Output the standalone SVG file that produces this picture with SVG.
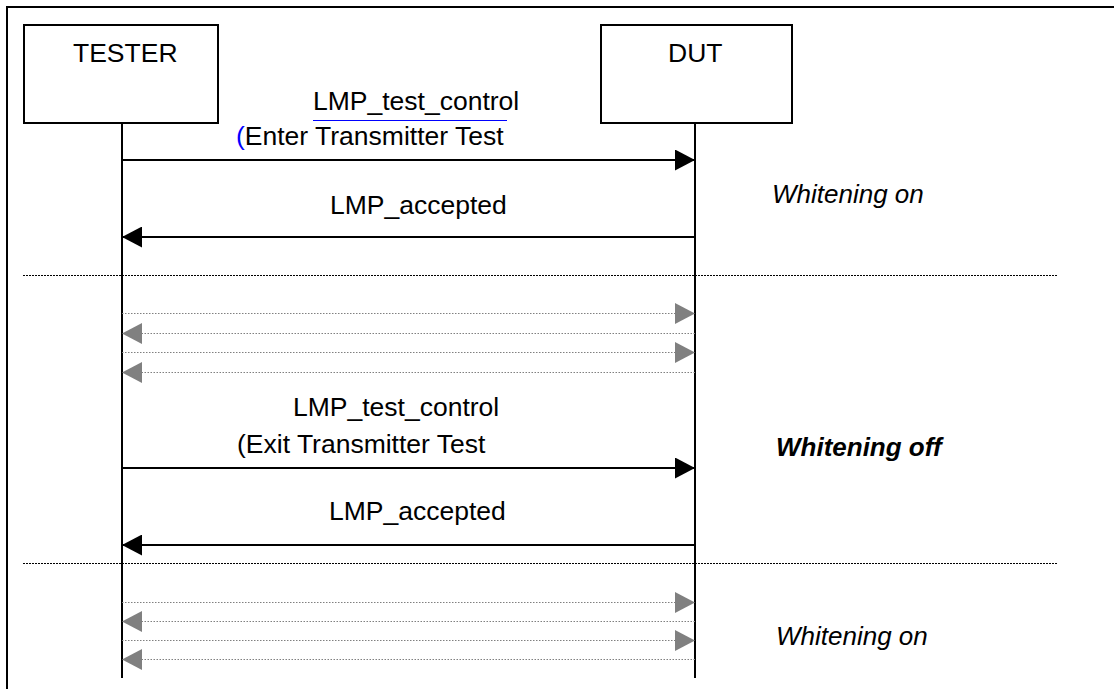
<svg xmlns="http://www.w3.org/2000/svg" width="1114" height="689" viewBox="0 0 1114 689">
<style>
text{font-family:"Liberation Sans",Arial,sans-serif;font-size:26.5px;fill:#000}
.box{fill:#fff;stroke:#000;stroke-width:2}
.life{stroke:#000;stroke-width:2}
.msg{stroke:#000;stroke-width:2;fill:none}
.dot{stroke:#808080;stroke-width:1;stroke-dasharray:1.5 1.5;fill:none}
.sep{stroke:#000;stroke-width:1;stroke-dasharray:2 1;fill:none}
.it{font-style:italic;font-size:26px}
.bi{font-style:italic;font-weight:bold;font-size:26px}
</style>
<defs>
<marker id="hb" viewBox="0 0 20 21" refX="20" refY="10.5" markerWidth="20" markerHeight="21" markerUnits="userSpaceOnUse" orient="auto"><path d="M0,0 L20,10.5 L0,21 z" fill="#000"/></marker>
<marker id="hg" viewBox="0 0 20 21" refX="20" refY="10.5" markerWidth="20" markerHeight="21" markerUnits="userSpaceOnUse" orient="auto"><path d="M0,0 L20,10.5 L0,21 z" fill="#808080"/></marker>
</defs>
<rect width="1114" height="689" fill="#fff"/>
<rect x="7" y="7" width="1130" height="700" fill="none" stroke="#000" stroke-width="2"/>
<g id="tester">
<rect class="box" x="24" y="25" width="194" height="98"/>
<text x="73" y="62">TESTER</text>
<line class="life" x1="122" y1="123" x2="122" y2="678"/>
</g>
<g id="dut">
<rect class="box" x="601" y="25" width="191" height="98"/>
<text x="668" y="62">DUT</text>
<line class="life" x1="695" y1="123" x2="695" y2="678"/>
</g>
<g id="separators">
<line class="sep" x1="23" y1="275.5" x2="1058" y2="275.5"/>
<line class="sep" x1="23" y1="563.5" x2="1058" y2="563.5"/>
</g>
<g id="connectors">
<line class="msg" x1="122" y1="160" x2="695" y2="160" marker-end="url(#hb)"/>
<line class="msg" x1="695" y1="237" x2="122" y2="237" marker-end="url(#hb)"/>
<line class="dot" x1="122" y1="313.5" x2="695" y2="313.5" marker-end="url(#hg)"/>
<line class="dot" x1="695" y1="333.5" x2="122" y2="333.5" marker-end="url(#hg)"/>
<line class="dot" x1="122" y1="352.5" x2="695" y2="352.5" marker-end="url(#hg)"/>
<line class="dot" x1="695" y1="372.5" x2="122" y2="372.5" marker-end="url(#hg)"/>
<line class="msg" x1="122" y1="468" x2="695" y2="468" marker-end="url(#hb)"/>
<line class="msg" x1="695" y1="545" x2="122" y2="545" marker-end="url(#hb)"/>
<line class="dot" x1="122" y1="602.5" x2="695" y2="602.5" marker-end="url(#hg)"/>
<line class="dot" x1="695" y1="621.5" x2="122" y2="621.5" marker-end="url(#hg)"/>
<line class="dot" x1="122" y1="640.5" x2="695" y2="640.5" marker-end="url(#hg)"/>
<line class="dot" x1="695" y1="659.5" x2="122" y2="659.5" marker-end="url(#hg)"/>
</g>
<g id="labels">
<text x="313" y="110">LMP_test_control</text>
<line x1="313" y1="120.5" x2="507" y2="120.5" stroke="#0000ff" stroke-width="1"/>
<text x="236" y="145"><tspan fill="#0000ff">(</tspan>Enter Transmitter Test</text>
<text x="330" y="214">LMP_accepted</text>
<text x="293" y="416">LMP_test_control</text>
<text x="237" y="453">(Exit Transmitter Test</text>
<text x="329" y="520">LMP_accepted</text>
<text class="it" x="772" y="203">Whitening on</text>
<text class="bi" x="776" y="456">Whitening off</text>
<text class="it" x="776" y="645">Whitening on</text>
</g>
</svg>
